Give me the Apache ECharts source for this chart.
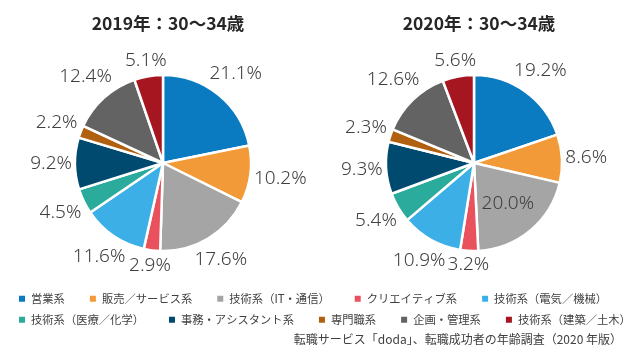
<!DOCTYPE html>
<html>
<head>
<meta charset="utf-8">
<script src="https://cdn.jsdelivr.net/npm/echarts@6/dist/echarts.min.js"></script>
<style>
html, body { margin: 0; padding: 0; background: #fff; }
#chart { width: 642px; height: 352px; }
</style>
</head>
<body>
<div id="chart"></div>
<script>
var categories = ['営業系', '販売／サービス系', '技術系（IT・通信）', 'クリエイティブ系', '技術系（電気／機械）',
                  '技術系（医療／化学）', '事務・アシスタント系', '専門職系', '企画・管理系', '技術系（建築／土木）'];
var colors = ['#0a7bc0', '#f39a38', '#a5a5a5', '#e9525d', '#3cb0e6',
              '#2bab9b', '#004a70', '#b0600f', '#636363', '#a51620'];
var values2019 = [21.1, 10.2, 17.6, 2.9, 11.6, 4.5, 9.2, 2.2, 12.4, 5.1];
var values2020 = [19.2, 8.6, 20.0, 3.2, 10.9, 5.4, 9.3, 2.3, 12.6, 5.6];
var titles = ['2019年：30～34歳', '2020年：30～34歳'];
var source = '転職サービス「doda」、転職成功者の年齢調査（2020 年版）';

var centers = [[163, 163], [474, 163]];
var R = 88;
// the 20.0% label of 2020 sits inside its slice
var insideLabel = [-1, 2];

var chart = echarts.init(document.getElementById('chart'));

// mid angle of each slice, clockwise from 12 o'clock
function midAngles(vals) {
    var total = vals.reduce(function (a, b) { return a + b; }, 0);
    var cum = 0;
    return vals.map(function (v) {
        var m = (cum + v / 2) / total * Math.PI * 2;
        cum += v;
        return m;
    });
}
var mids = [midAngles(values2019), midAngles(values2020)];

function placeLabel(params) {
    var s = params.seriesIndex, i = params.dataIndex;
    var a = mids[s][i];
    var sx = Math.sin(a), cy = -Math.cos(a);
    var d;
    if (i === insideLabel[s]) {
        d = R * 0.6;
    } else {
        var w = params.labelRect.width, h = params.labelRect.height;
        d = R + 3 + Math.abs(sx) * w / 2 + Math.abs(cy) * h / 2;
    }
    return {
        x: centers[s][0] + sx * d,
        y: centers[s][1] + cy * d,
        align: 'center',
        verticalAlign: 'middle'
    };
}

function pieSeries(vals, s) {
    return {
        type: 'pie',
        center: centers[s],
        radius: [0, R],
        startAngle: 90,
        clockwise: true,
        avoidLabelOverlap: false,
        data: vals.map(function (v, i) { return { name: categories[i], value: v }; }),
        itemStyle: { borderColor: '#fff', borderWidth: 2.5 },
        label: {
            show: true,
            position: 'outside',
            formatter: function (p) { return p.value.toFixed(1) + '%'; },
            fontFamily: 'Noto Sans',
            fontWeight: 300,
            fontSize: 19,
            color: '#404040'
        },
        labelLine: { show: false },
        labelLayout: placeLabel,
        emphasis: { disabled: true }
    };
}

var legendText = { fontFamily: 'Noto Sans CJK JP', fontSize: 11.3, color: '#404040' };

var option = {
    color: colors,
    animation: false,
    title: [
        { text: titles[0], left: 163, top: 10, textAlign: 'center',
          textStyle: { fontFamily: 'Noto Sans CJK JP', fontSize: 17.5, fontWeight: 'bold', color: '#262626' } },
        { text: titles[1], left: 474, top: 10, textAlign: 'center',
          textStyle: { fontFamily: 'Noto Sans CJK JP', fontSize: 17.5, fontWeight: 'bold', color: '#262626' } },
        { text: source, right: 20, top: 333, padding: 0,
          textStyle: { fontFamily: 'Noto Sans CJK JP', fontSize: 12, fontWeight: 'normal', color: '#404040' } }
    ],
    legend: [
        { data: categories.slice(0, 5), left: 17, top: 293, padding: 0, icon: 'rect', itemWidth: 8, itemHeight: 8,
          itemGap: 23, selectedMode: false, textStyle: legendText },
        { data: categories.slice(5), left: 17, top: 314, padding: 0, icon: 'rect', itemWidth: 8, itemHeight: 8,
          itemGap: 23, selectedMode: false, textStyle: legendText }
    ],
    series: [
        pieSeries(values2019, 0),
        pieSeries(values2020, 1)
    ]
};
chart.setOption(option);
</script>
</body>
</html>
